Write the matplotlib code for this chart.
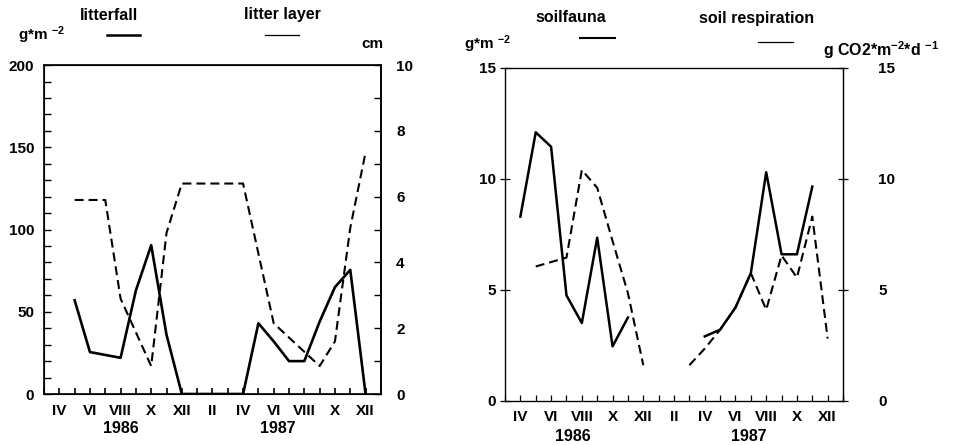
import matplotlib.pyplot as plt
from matplotlib.lines import Line2D
from matplotlib.ticker import MultipleLocator, FixedLocator
import numpy as np

plt.rcParams['font.family'] = ['Liberation Sans', 'DejaVu Sans']
plt.rcParams['font.weight'] = 'bold'
plt.rcParams['mathtext.default'] = 'regular'
plt.rcParams['axes.unicode_minus'] = False

nan = np.nan

# months counted from Jan 1986 = 1
month_ticks = list(range(4, 25, 2))
month_labels = ['IV', 'VI', 'VIII', 'X', 'XII', 'II', 'IV', 'VI', 'VIII', 'X', 'XII']

# left panel
litterfall_m = [5, 6, 8, 9, 10, 11, 12, 13, 14, 15, 16, 17, 18, 19, 20, 21, 22, 23, 24]
litterfall = [57, 25.5, 22, 63, 90.5, 36, 0, 0, 0, 0, 0, 43, 32, 20, 20, 44, 65, 75.5, 0]

litter_m = [5, 7, 8, 10, 11, 12, 16, 18, 21, 22, 23, 24]
litter = [5.9, 5.9, 2.9, 0.85, 4.9, 6.4, 6.4, 2.15, 0.85, 1.6, 5.05, 7.35]

# right panel
fauna_m = [4, 5, 6, 7, 8, 9, 10, 11, 12, 16, 17, 18, 19, 20, 21, 22, 23]
fauna = [8.3, 12.1, 11.45, 4.75, 3.5, 7.35, 2.45, 3.75, nan, 2.9, 3.2, 4.2, 5.75, 10.3, 6.6, 6.6, 9.65]

resp_m = [5, 7, 8, 9, 10, 11, 12, 13, 15, 16, 17, 18, 19, 20, 21, 22, 23, 24]
resp = [6.05, 6.45, 10.4, 9.6, 7.2, 4.85, 1.6, nan, 1.6, 2.35, 3.2, 4.2, 5.75, 4.1, 6.55, 5.55, 8.3, 2.8]

fig = plt.figure(figsize=(9.57, 4.45), dpi=100)

DASH = (4.3, 2.4)
FS = 11


def month_axis(ax, lw):
    ax.set_xlim(3, 25)
    ax.xaxis.set_major_locator(FixedLocator(month_ticks))
    ax.xaxis.set_minor_locator(MultipleLocator(1))
    ax.set_xticklabels(month_labels)
    ax.tick_params(axis='x', which='both', direction='in', length=4, width=lw,
                   top=False, pad=7, labelsize=FS)
    for s in ax.spines.values():
        s.set_linewidth(lw)


# ---- left: litterfall / litter layer
ax1 = fig.add_axes([0.046, 0.1146, 0.352, 0.739])
ax1r = ax1.twinx()
ax1.plot(litterfall_m, litterfall, color='black', lw=1.9)
ax1r.plot(litter_m, litter, color='black', lw=1.5, dashes=DASH)
ax1.set_ylim(0, 200)
ax1r.set_ylim(0, 10)
month_axis(ax1, 1.2)
ax1r.spines['right'].set_linewidth(1.2)
ax1.yaxis.set_major_locator(MultipleLocator(50))
ax1.yaxis.set_minor_locator(MultipleLocator(10))
ax1.tick_params(axis='y', which='both', direction='in', length=5, width=1, pad=7, labelsize=FS)
ax1r.yaxis.set_major_locator(MultipleLocator(2))
ax1r.yaxis.set_minor_locator(MultipleLocator(1))
ax1r.tick_params(axis='y', which='both', direction='in', length=5, width=1, pad=11, labelsize=FS)
tr1 = ax1.get_xaxis_transform()
ax1.text(8, -0.106, '1986', transform=tr1, ha='center', va='center', fontsize=11.5)
ax1.text(18.3, -0.106, '1987', transform=tr1, ha='center', va='center', fontsize=11.5)

# ---- right: soilfauna / soil respiration
ax2 = fig.add_axes([0.5277, 0.0996, 0.3532, 0.7476])
ax2r = ax2.twinx()
ax2.plot(fauna_m, fauna, color='black', lw=1.8)
ax2r.plot(resp_m, resp, color='black', lw=1.5, dashes=DASH)
ax2.set_ylim(0, 15)
ax2r.set_ylim(0, 15)
month_axis(ax2, 0.9)
ax2r.spines['right'].set_linewidth(0.9)
ax2.yaxis.set_major_locator(MultipleLocator(5))
ax2.tick_params(axis='y', direction='inout', length=7, width=0.9, pad=3, labelsize=FS)
ax2r.yaxis.set_major_locator(MultipleLocator(5))
ax2r.tick_params(axis='y', direction='inout', length=7, width=0.9, pad=22, labelsize=FS)
tr2 = ax2.get_xaxis_transform()
ax2.text(7.4, -0.109, '1986', transform=tr2, ha='center', va='center', fontsize=11.5)
ax2.text(18.9, -0.109, '1987', transform=tr2, ha='center', va='center', fontsize=11.5)


# ---- header labels
def fx(px):
    return px / 957


def fy(py):
    return 1 - py / 445


fig.text(fx(109), fy(15), 'litterfall', ha='center', va='center', fontsize=11.5)
fig.text(fx(282), fy(15), 'litter layer', ha='center', va='center', fontsize=11.5)
fig.text(fx(571), fy(18), 'soilfauna', ha='center', va='center', fontsize=11.5)
fig.text(fx(757), fy(19), 'soil respiration', ha='center', va='center', fontsize=11.5)

fig.add_artist(Line2D([fx(107), fx(140)], [fy(35), fy(35)], color='black', lw=1.8))
fig.add_artist(Line2D([fx(265), fx(299)], [fy(35), fy(35)], color='black', lw=0.9))
fig.add_artist(Line2D([fx(580), fx(615)], [fy(38), fy(38)], color='black', lw=1.5))
fig.add_artist(Line2D([fx(758), fx(793)], [fy(42), fy(42)], color='black', lw=0.9))

fig.text(fx(18), fy(35), r'g*m $^{-2}$', ha='left', va='center', fontsize=11)
fig.text(fx(372), fy(44), 'cm', ha='center', va='center', fontsize=11)
fig.text(fx(464), fy(44), r'g*m $^{-2}$', ha='left', va='center', fontsize=11)
fig.text(fx(823), fy(50), r'g CO2*m$^{-2}$*d $^{-1}$', ha='left', va='center', fontsize=11.5)

fig.savefig('out.png', dpi=100)
